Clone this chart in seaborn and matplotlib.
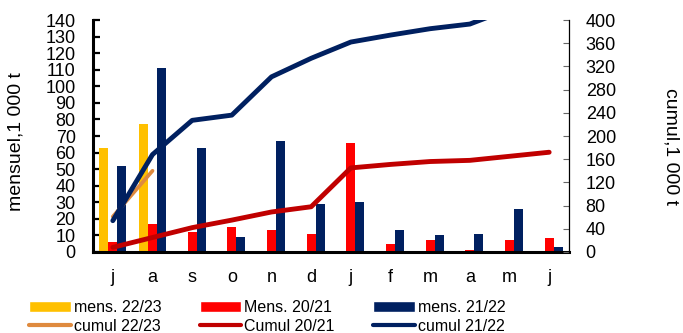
import matplotlib
matplotlib.use("Agg")
import matplotlib.pyplot as plt
from matplotlib.patches import Patch
from matplotlib.lines import Line2D
import pandas as pd
import seaborn as sns

# Monthly deliveries (1 000 t) and running totals, campaign months July -> June
months = ["j", "a", "s", "o", "n", "d", "j", "f", "m", "a", "m", "j"]
mens_2223 = [63, 77]
mens_2021 = [6, 17, 12, 15, 13, 11, 66, 5, 7, 1.5, 7, 8.5]
mens_2122 = [52, 111, 63, 9, 67, 29, 30, 13, 10, 11, 26, 3]
cumul_2223 = [61, 140]
cumul_2021 = [8, 25, 42, 55, 69, 78, 145, 151, 156, 158, 165, 172]
cumul_2122 = [54, 168, 227, 236, 302, 334, 362, 374, 385, 393, 419, 422]

bar_series = ["mens. 22/23", "Mens. 20/21", "mens. 21/22"]
line_series = ["cumul 22/23", "Cumul 20/21", "cumul 21/22"]
bar_colors = ["#FFC000", "#FF0000", "#002060"]
line_colors = ["#DF8A3E", "#C00000", "#002060"]
line_widths = [2.7, 3.5, 3.5]


def long_frame(names, values):
    rows = []
    for name, vals in zip(names, values):
        for i, v in enumerate(vals):
            rows.append({"pos": i, "value": v, "series": name})
    return pd.DataFrame(rows)


bars = long_frame(bar_series, [mens_2223, mens_2021, mens_2122])
cumul = long_frame(line_series, [cumul_2223, cumul_2021, cumul_2122])

sns.set_style("white")
plt.rcParams["font.family"] = ["Liberation Sans", "DejaVu Sans"]
plt.rcParams["text.color"] = "black"
plt.rcParams["axes.labelcolor"] = "black"

fig = plt.figure(figsize=(6.83, 3.33), dpi=100)
ax = fig.add_axes([93 / 683, 1 - 252 / 333, (569 - 93) / 683, (252 - 20) / 333])

sns.barplot(data=bars, x="pos", y="value", hue="series", hue_order=bar_series,
            order=list(range(12)), palette=bar_colors, saturation=1, width=0.68,
            errorbar=None, legend=False, linewidth=0, ax=ax)

ax2 = ax.twinx()
for name, color, lw in zip(line_series, line_colors, line_widths):
    sns.lineplot(data=cumul[cumul["series"] == name], x="pos", y="value",
                 color=color, linewidth=lw, solid_capstyle="round",
                 legend=False, ax=ax2)

ax.set_xlim(-0.5, 11.5)
ax.set_ylim(0, 140)
ax.set_yticks(range(0, 141, 10))
ax.set_xticks(range(12))
ax.set_xticklabels(months)
ax2.set_ylim(0, 400)
ax2.set_yticks(range(0, 401, 40))

ax.set_xlabel("")
ax.set_ylabel("mensuel,1 000 t", fontsize=14)
ax.yaxis.label.set_verticalalignment("center")
ax.yaxis.set_label_coords((16 - 93) / 476, (252 - 142) / 232)
ax2.set_xlabel("")
ax2.set_ylabel("cumul,1 000 t", fontsize=14, rotation=270)
ax2.yaxis.label.set_verticalalignment("center")
ax2.yaxis.set_label_coords((671 - 93) / 476, (252 - 146) / 232)

for side in ["top", "right"]:
    ax.spines[side].set_visible(False)
for side in ["left", "bottom"]:
    ax.spines[side].set_color("black")
    ax.spines[side].set_linewidth(2.2)
for side in ["top", "left", "bottom"]:
    ax2.spines[side].set_visible(False)
ax2.spines["right"].set_color("black")
ax2.spines["right"].set_linewidth(0.9)

ax.tick_params(axis="y", direction="in", length=5, width=1.6, color="black",
               pad=12.5, labelsize=13, labelcolor="black", left=True)
ax.tick_params(axis="x", length=0, pad=12, labelsize=13, labelcolor="black")
ax2.tick_params(axis="y", direction="in", length=4.5, width=0.8, color="#666666",
                pad=12, labelsize=13, labelcolor="black", right=True)

handles = [
    Patch(facecolor=bar_colors[0]),
    Line2D([], [], color=line_colors[0], lw=3, solid_capstyle="round"),
    Patch(facecolor=bar_colors[1]),
    Line2D([], [], color=line_colors[1], lw=3, solid_capstyle="round"),
    Patch(facecolor=bar_colors[2]),
    Line2D([], [], color=line_colors[2], lw=3, solid_capstyle="round"),
]
labels = [bar_series[0], line_series[0], bar_series[1], line_series[1],
          bar_series[2], line_series[2]]
fig.legend(handles, labels, ncol=3, loc="upper left",
           bbox_to_anchor=(29 / 683, 1 - 300 / 333), frameon=False, fontsize=11.5,
           handlelength=2.6, handletextpad=0.2, columnspacing=2.4,
           labelspacing=0.25, borderpad=0, borderaxespad=0)

fig.savefig("out.png", dpi=100)
